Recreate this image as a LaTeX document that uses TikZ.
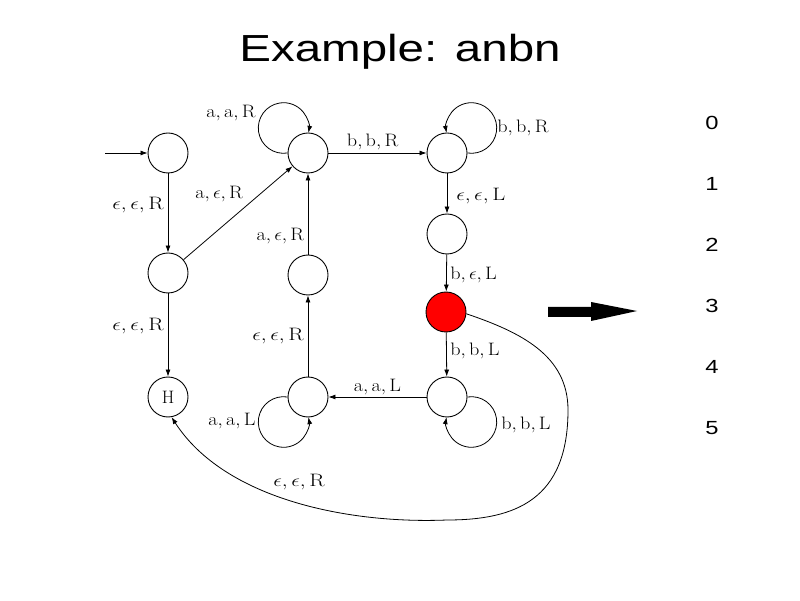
\documentclass[tikz,border=0pt]{standalone}
\usepackage{fontspec}
\newfontfamily\arialfont{Liberation Sans}
\usetikzlibrary{arrows.meta}
\begin{document}
\begin{tikzpicture}[x=1pt,y=1pt,
  st/.style={draw, circle, minimum size=40pt, inner sep=0pt, line width=0.9pt,
    font=\fontsize{18}{20}\selectfont},
  edge/.style={line width=0.8pt, -{Latex[length=7pt,width=5pt]}},
  lbl/.style={font=\fontsize{18}{20}\selectfont, xscale=1.12, inner sep=3pt},
  elbl/.style={font=\fontsize{18}{20}\selectfont, xscale=1.25, inner sep=3pt},
  num/.style={font=\arialfont\fontsize{19}{22}\selectfont, xscale=1.25, inner sep=0pt},
]
\useasboundingbox (0,0) rectangle (800,600);
\fill[white] (0,0) rectangle (800,600);
% title
\node[font=\arialfont\fontsize{37.7}{44}\selectfont, xscale=1.26, inner sep=0pt] (title) at (400,548) {Example: anbn};
% states
\node[st] (q0) at (168,447) {};
\node[st] (q1) at (168,327) {};
\node[st] (H)  at (168,203) {H};
\node[st] (q2) at (308,447) {};
\node[st] (q3) at (308,325) {};
\node[st] (q4) at (308,203) {};
\node[st] (q5) at (447,447) {};
\node[st] (q6) at (447,366) {};
\node[st, fill=red] (q7) at (446,288) {};
\node[st] (q8) at (447,203) {};
% start
\coordinate (s) at (105,447);
\draw[edge] (s) -- (q0);
% straight edges
\draw[edge] (q0) -- node[elbl, pos=0.4, left] {$\epsilon,\epsilon,\mathrm{R}$} (q1);
\draw[edge] (q1) -- node[elbl, pos=0.39, left] {$\epsilon,\epsilon,\mathrm{R}$} (H);
\draw[edge] (q1) -- node[lbl, pos=0.58, above left, inner sep=3pt] {$\mathrm{a},\epsilon,\mathrm{R}$} (q2);
\draw[edge] (q3) -- node[lbl, pos=0.23, left] {$\mathrm{a},\epsilon,\mathrm{R}$} (q2);
\draw[edge] (q4) -- node[elbl, pos=0.5, left] {$\epsilon,\epsilon,\mathrm{R}$} (q3);
\draw[edge] (q2) -- node[lbl, pos=0.45, above] {$\mathrm{b,b,R}$} (q5);
\draw[edge] (q5) -- node[elbl, pos=0.56, right, xshift=4pt] {$\epsilon,\epsilon,\mathrm{L}$} (q6);
\draw[edge] (q6) -- node[lbl, pos=0.55, right] {$\mathrm{b},\epsilon,\mathrm{L}$} (q7);
\draw[edge] (q7) -- node[lbl, pos=0.42, right] {$\mathrm{b,b,L}$} (q8);
\draw[edge] (q8) -- node[lbl, pos=0.5, above, inner sep=2pt] {$\mathrm{a,a,L}$} (q4);
% loops
\draw[edge] (q2.180) arc[start angle=279, end angle=-11, radius=25.3];
\draw[edge] (q5.0) arc[start angle=-99, end angle=191, radius=25.3];
\draw[edge] (q4.180) arc[start angle=81, end angle=371, radius=25.3];
\draw[edge] (q8.0) arc[start angle=99, end angle=-191, radius=25.3];
\node[lbl] (l2) at (231,487) {$\mathrm{a,a,R}$};
\node[lbl] (l5) at (523,472) {$\mathrm{b,b,R}$};
\node[lbl] (l4) at (232,179) {$\mathrm{a,a,L}$};
\node[lbl] (l8) at (526,175) {$\mathrm{b,b,L}$};
% long return edge
\coordinate (w1) at (568,190);
\coordinate (w2) at (447,80);
\draw[edge] (q7.-5) .. controls (520,268) and (568,245) .. (w1)
  .. controls (568,100) and (515,80) .. (w2)
  .. controls (350,76) and (225,100) .. node[elbl, pos=0.48, above=10pt] {$\epsilon,\epsilon,\mathrm{R}$} (H.-80);
% big arrow
\fill[black] (548,293) -- (591,293) -- (591,298) -- (637,289) -- (591,279) -- (591,283) -- (548,283) -- cycle;
% numbers
\node[num] (n0) at (712,477) {0};
\node[num] (n1) at (712,416) {1};
\node[num] (n2) at (712,355) {2};
\node[num] (n3) at (712,294) {3};
\node[num] (n4) at (712,233) {4};
\node[num] (n5) at (712,172) {5};
\end{tikzpicture}
\end{document}
